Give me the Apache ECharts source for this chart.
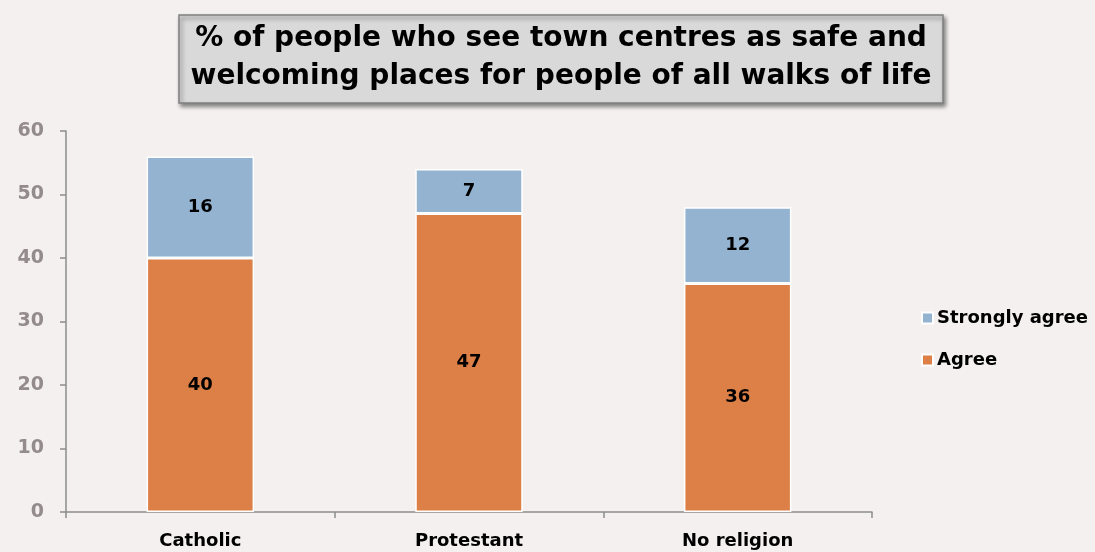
<!DOCTYPE html>
<html>
<head>
<meta charset="utf-8">
<script src="https://cdn.jsdelivr.net/npm/echarts@6/dist/echarts.min.js"></script>
<style>
  html, body { margin: 0; padding: 0; background: #f3f0ef; }
  #chart { width: 1095px; height: 552px; }
</style>
</head>
<body>
<div id="chart"></div>
<script>
const categories = ['Catholic', 'Protestant', 'No religion']
const agree = [40, 47, 36]
const stronglyAgree = [16, 7, 12]
const yTicks = [0, 10, 20, 30, 40, 50, 60]

const chart = echarts.init(document.getElementById('chart'))
const font = '"DejaVu Sans", sans-serif'

const labelStyle = {
  show: true,
  position: 'inside',
  color: '#000',
  fontWeight: 'bold',
  fontSize: 18,
  fontFamily: font
}

chart.setOption({
  backgroundColor: '#f3f0ef',
  animation: false,
  title: {
    text: '% of people who see town centres as safe and\nwelcoming places for people of all walks of life',
    left: 549,
    textAlign: 'center',
    top: 15,
    padding: [5, 12, 7, 12],
    backgroundColor: '#d9d9d9',
    borderColor: '#808080',
    borderWidth: 1.5,
    shadowColor: 'rgba(0,0,0,0.45)',
    shadowBlur: 4,
    shadowOffsetX: 2,
    shadowOffsetY: 3,
    textStyle: {
      color: '#000',
      fontWeight: 'bold',
      fontSize: 28,
      lineHeight: 38,
      fontFamily: font
    }
  },
  legend: {
    orient: 'vertical',
    left: 916,
    top: 304,
    itemGap: 24,
    itemWidth: 11,
    itemHeight: 11,
    icon: 'rect',
    data: ['Strongly agree', 'Agree'],
    textStyle: {
      color: '#000',
      fontWeight: 'bold',
      fontSize: 18,
      fontFamily: font,
      padding: [0, 0, 0, -1]
    }
  },
  grid: {
    left: 66,
    right: 223,
    top: 131,
    bottom: 40
  },
  xAxis: {
    type: 'category',
    data: categories,
    axisLine: { lineStyle: { color: '#8c8c8c', width: 1.5 } },
    axisTick: { show: true, length: 6, lineStyle: { color: '#8c8c8c', width: 1.5 } },
    axisLabel: {
      color: '#000',
      fontWeight: 'bold',
      fontSize: 18,
      fontFamily: font,
      margin: 20
    }
  },
  yAxis: {
    type: 'value',
    min: yTicks[0],
    max: yTicks[yTicks.length - 1],
    interval: 10,
    splitLine: { show: false },
    axisLine: { show: true, lineStyle: { color: '#8c8c8c', width: 1.5 } },
    axisTick: { show: true, length: 6, lineStyle: { color: '#8c8c8c', width: 1.5 } },
    axisLabel: {
      color: '#948b8b',
      fontWeight: 'bold',
      fontSize: 19,
      fontFamily: font,
      margin: 22
    }
  },
  series: [
    {
      name: 'Agree',
      type: 'bar',
      stack: 'total',
      barWidth: '40%',
      data: agree,
      itemStyle: { color: '#dd8047', borderColor: '#ffffff', borderWidth: 1.5 },
      label: labelStyle
    },
    {
      name: 'Strongly agree',
      type: 'bar',
      stack: 'total',
      barWidth: '40%',
      data: stronglyAgree,
      itemStyle: { color: '#93b3d1', borderColor: '#ffffff', borderWidth: 1.5 },
      label: labelStyle
    }
  ]
})
</script>
</body>
</html>
